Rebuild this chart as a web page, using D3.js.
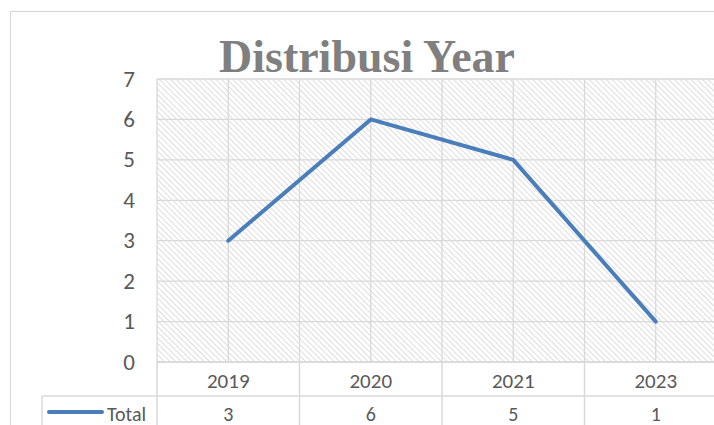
<!DOCTYPE html>
<html>
<head>
<meta charset="utf-8">
<script src="https://cdn.jsdelivr.net/npm/d3@7"></script>
<style>
  body { margin: 0; background: #fff; }
  svg { display: block; }
</style>
</head>
<body>
<div class="plot"></div>
<script>
const years = ['2019', '2020', '2021', '2023'];
const totals = [3, 6, 5, 1];
const yTicks = [0, 1, 2, 3, 4, 5, 6, 7];
const seriesName = 'Total';
const chartTitle = 'Distribusi Year';

const w = 714, h = 425;
const plotLeft = 157, plotTop = 79, plotBottom = 362;
const catW = 142.5;

const svg = d3.select('.plot').append('svg')
	.attr('width', w)
	.attr('height', h);

// Hatch pattern for plot area
const defs = svg.append('defs');
const pat = defs.append('pattern')
	.attr('id', 'hatch')
	.attr('patternUnits', 'userSpaceOnUse')
	.attr('width', 4)
	.attr('height', 4)
	.attr('patternTransform', 'rotate(-45)');
pat.append('rect').attr('width', 4).attr('height', 4).attr('fill', '#fff');
pat.append('line')
	.attr('x1', 0).attr('y1', 0).attr('x2', 0).attr('y2', 4)
	.attr('stroke', '#d6d6d6')
	.attr('stroke-width', 1.6);

// Outer chart border
svg.append('rect')
	.attr('x', 10.5).attr('y', 11.5)
	.attr('width', 720).attr('height', 430)
	.attr('fill', 'none')
	.attr('stroke', '#d9d9d9')
	.attr('stroke-width', 1.2);

const x = d3.scaleBand()
	.domain(years)
	.range([plotLeft, plotLeft + catW * years.length]);
const y = d3.scaleLinear()
	.domain([0, 7])
	.range([plotBottom, plotTop]);

// Plot area
svg.append('rect')
	.attr('x', plotLeft).attr('y', plotTop)
	.attr('width', catW * years.length).attr('height', plotBottom - plotTop)
	.attr('fill', 'url(#hatch)');

// Gridlines
const grid = svg.append('g').attr('stroke', '#d9d9d9').attr('stroke-width', 1.3);
grid.selectAll('.hg')
	.data(yTicks)
	.join('line')
	.attr('x1', plotLeft).attr('x2', w)
	.attr('y1', d => y(d)).attr('y2', d => y(d));
const vLines = [];
years.forEach(d => {
	vLines.push(x(d));
	vLines.push(x(d) + x.bandwidth() / 2);
});
grid.selectAll('.vg')
	.data(vLines)
	.join('line')
	.attr('x1', d => d).attr('x2', d => d)
	.attr('y1', plotTop).attr('y2', plotBottom);

const tfont = 'Carlito, Liberation Sans, Arial, sans-serif';

// Y tick labels
svg.append('g').selectAll('text')
	.data(yTicks)
	.join('text')
	.attr('x', 135)
	.attr('y', d => y(d))
	.attr('dy', '0.33em')
	.attr('text-anchor', 'end')
	.attr('font-family', tfont)
	.attr('font-size', 23)
	.attr('fill', '#595959')
	.text(d => d);

// Data table
const rowMid = 396;
const table = svg.append('g').attr('stroke', '#d9d9d9').attr('stroke-width', 1.5);
table.append('line').attr('x1', plotLeft).attr('x2', w).attr('y1', plotBottom).attr('y2', plotBottom);
table.append('line').attr('x1', 42).attr('x2', w).attr('y1', rowMid).attr('y2', rowMid);
table.append('line').attr('x1', 42).attr('x2', 42).attr('y1', rowMid).attr('y2', h);
table.selectAll('.tv')
	.data(years)
	.join('line')
	.attr('x1', d => x(d)).attr('x2', d => x(d))
	.attr('y1', plotBottom).attr('y2', h);

svg.append('g').selectAll('text')
	.data(years)
	.join('text')
	.attr('x', d => x(d) + x.bandwidth() / 2)
	.attr('y', 388)
	.attr('text-anchor', 'middle')
	.attr('font-family', tfont)
	.attr('font-size', 21)
	.attr('fill', '#595959')
	.text(d => d);
svg.append('g').selectAll('text')
	.data(totals)
	.join('text')
	.attr('x', (d, i) => x(years[i]) + x.bandwidth() / 2)
	.attr('y', 421)
	.attr('text-anchor', 'middle')
	.attr('font-family', tfont)
	.attr('font-size', 20)
	.attr('fill', '#595959')
	.text(d => d);

// Legend key in table
svg.append('line')
	.attr('x1', 49).attr('x2', 102)
	.attr('y1', 412).attr('y2', 412)
	.attr('stroke', '#4a7ebb')
	.attr('stroke-width', 4)
	.attr('stroke-linecap', 'round');
svg.append('text')
	.attr('x', 107).attr('y', 421)
	.attr('font-family', tfont)
	.attr('font-size', 20)
	.attr('fill', '#595959')
	.text(seriesName);

// Series line
const line = d3.line()
	.x((d, i) => x(years[i]) + x.bandwidth() / 2)
	.y(d => y(d));
svg.append('path')
	.datum(totals)
	.attr('d', line)
	.attr('fill', 'none')
	.attr('stroke', '#4a7ebb')
	.attr('stroke-width', 4)
	.attr('stroke-linejoin', 'round')
	.attr('stroke-linecap', 'round');

// Title
svg.append('text')
	.attr('x', 367).attr('y', 72)
	.attr('text-anchor', 'middle')
	.attr('font-family', 'Liberation Serif, DejaVu Serif, serif')
	.attr('font-weight', 'bold')
	.attr('font-size', 46)
	.attr('fill', '#7f7f7f')
	.text(chartTitle);
</script>
</body>
</html>
